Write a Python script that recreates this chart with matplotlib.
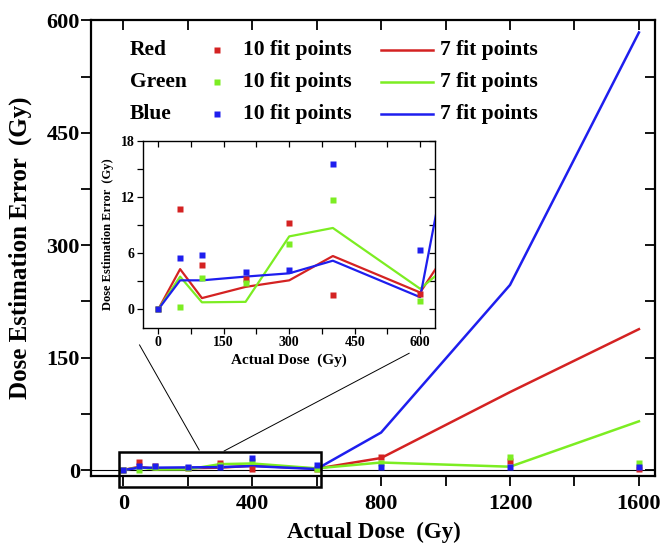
import matplotlib
matplotlib.use("Agg")
import matplotlib.pyplot as plt
from matplotlib.patches import Rectangle
from matplotlib.ticker import MultipleLocator

plt.rcParams['font.family'] = ['Liberation Serif', 'DejaVu Serif']
plt.rcParams['font.weight'] = 'bold'

# data
dose = [0, 50, 100, 200, 300, 400, 600, 800, 1200, 1600]
red_10 = [0, 10.7, 4.7, 3.2, 9.2, 1.5, 1.6, 17, 12, 2]
green_10 = [0, 0.2, 3.4, 2.8, 7.0, 11.7, 0.9, 9, 18, 9]
blue_10 = [0, 5.45, 5.8, 4.0, 4.2, 15.55, 6.3, 4.4, 4, 4]
red_7 = [0, 4.3, 1.2, 2.4, 3.1, 5.7, 1.8, 16, 104, 188]
green_7 = [0, 3.5, 0.75, 0.8, 7.8, 8.7, 2.2, 10, 4.4, 65]
blue_7 = [0, 3.1, 3.1, 3.5, 3.85, 5.2, 1.3, 50, 247, 584]

names = ["Red", "Green", "Blue"]
colors = ["#d42222", "#7ced22", "#1e1eee"]
pts10 = [red_10, green_10, blue_10]
pts7 = [red_7, green_7, blue_7]

fig = plt.figure(figsize=(6.63, 5.43), dpi=100)
ax = fig.add_axes([0.1373, 0.1234, 0.8507, 0.8389])

for vals, c in zip(pts7, colors):
    ax.plot(dose, vals, color=c, lw=1.8, zorder=3)
for vals, c in zip(pts10, colors):
    ax.plot(dose, vals, 's', color=c, ms=5, mec='none', zorder=4)
ax.axhline(0, color='black', lw=0.8, zorder=2)

ax.set_xlim(-100, 1650)
ax.set_ylim(-8, 600)
ax.xaxis.set_major_locator(MultipleLocator(400))
ax.xaxis.set_minor_locator(MultipleLocator(200))
ax.yaxis.set_major_locator(MultipleLocator(150))
ax.yaxis.set_minor_locator(MultipleLocator(75))
for s in ax.spines.values():
    s.set_linewidth(1.6)
ax.tick_params(which='both', direction='out', length=7, width=1.3, labelsize=16)
ax.tick_params(axis='x', pad=6)
ax.tick_params(axis='y', pad=1)
ax.tick_params(which='both', top=True, right=True, labeltop=False, labelright=False)
# top / right ticks point inward
for t in ax.xaxis.get_major_ticks() + ax.xaxis.get_minor_ticks():
    t.tick2line.set_marker(3)
for t in ax.yaxis.get_major_ticks() + ax.yaxis.get_minor_ticks():
    t.tick2line.set_marker(0)

ax.set_xlabel("Actual Dose  (Gy)", fontsize=16.5, fontweight='bold', va='center')
ax.set_ylabel("Dose Estimation Error  (Gy)", fontsize=18, fontweight='bold', va='center')
ax.xaxis.set_label_coords(0.501, -0.123)
ax.yaxis.set_label_coords(-0.126, 0.5)

# legend drawn by hand
rows = [0.9352, 0.8656, 0.7947]
for name, c, y in zip(names, colors, rows):
    ax.text(0.069, y, name, transform=ax.transAxes, fontsize=15.5, fontweight='bold', va='center')
    ax.plot([0.2234], [y], 's', color=c, ms=4, mec='none', transform=ax.transAxes, clip_on=False)
    ax.text(0.2695, y, "10 fit points", transform=ax.transAxes, fontsize=15.5, fontweight='bold', va='center')
    ax.plot([0.5142, 0.6064], [y, y], color=c, lw=1.8, transform=ax.transAxes, clip_on=False)
    ax.text(0.6188, y, "7 fit points", transform=ax.transAxes, fontsize=15.5, fontweight='bold', va='center')

# zoom box and connectors
ax.add_patch(Rectangle((-14.6, -22.3), 627.2, 46.7, fill=False, ec='black', lw=1.8, clip_on=False, zorder=5))
ax.plot([50.5, 235.5], [166.9, 26.7], color='black', lw=0.7, zorder=2)
ax.plot([313, 887], [25.4, 155.8], color='black', lw=0.7, zorder=2)

# inset
ax2 = fig.add_axes([0.2157, 0.3959, 0.4404, 0.3444])
for vals, c in zip(pts7, colors):
    ax2.plot(dose, vals, color=c, lw=1.6, zorder=3)
for vals, c in zip(pts10, colors):
    ax2.plot(dose, vals, 's', color=c, ms=5, mec='none', zorder=4)
ax2.set_xlim(-35, 634)
ax2.set_ylim(-2, 18)
ax2.xaxis.set_major_locator(MultipleLocator(150))
ax2.xaxis.set_minor_locator(MultipleLocator(75))
ax2.yaxis.set_major_locator(MultipleLocator(6))
ax2.yaxis.set_minor_locator(MultipleLocator(3))
for s in ax2.spines.values():
    s.set_linewidth(1.0)
ax2.tick_params(which='both', direction='out', length=4, width=0.9, labelsize=10, pad=2)
ax2.tick_params(which='both', top=True, right=True)
for t in ax2.xaxis.get_major_ticks() + ax2.xaxis.get_minor_ticks():
    t.tick2line.set_marker(3)
for t in ax2.yaxis.get_major_ticks() + ax2.yaxis.get_minor_ticks():
    t.tick2line.set_marker(0)
ax2.set_xlabel("Actual Dose  (Gy)", fontsize=11, fontweight='bold', va='center')
ax2.set_ylabel("Dose Estimation Error  (Gy)", fontsize=9, fontweight='bold', va='center')
ax2.xaxis.set_label_coords(0.5, -0.175)
ax2.yaxis.set_label_coords(-0.12, 0.5)

fig.savefig("out.png", dpi=100)
